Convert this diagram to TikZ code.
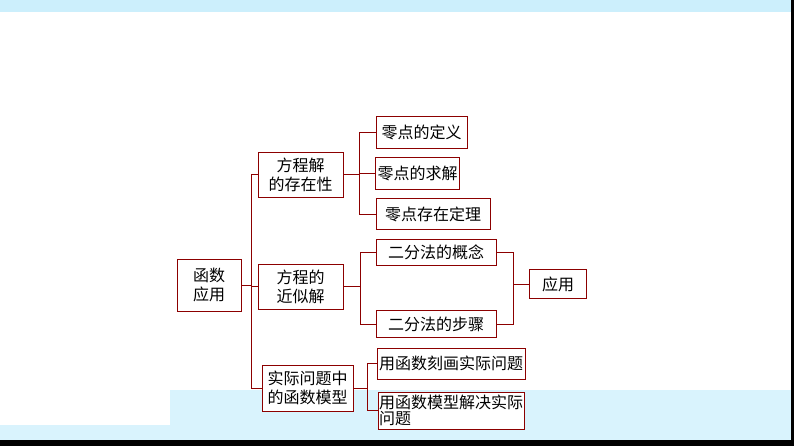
\documentclass[tikz,border=0pt]{standalone}
\usepackage{fontspec}
\newfontfamily\cjk{Noto Sans CJK SC}
\begin{document}
\begin{tikzpicture}[x=1pt,y=-1pt,
  bx/.style={draw=red!55!black,line width=0.9pt,fill=white,font=\cjk\fontsize{16}{19}\selectfont,inner sep=2pt,align=center},
  ln/.style={draw=red!55!black,line width=0.9pt}]
\useasboundingbox (0,0) rectangle (794,446);
\fill[white] (0,0) rectangle (794,446);
\fill[cyan!20] (0,0) rectangle (794,12);
\fill[cyan!15] (170,390) rectangle (794,440);
\fill[cyan!15] (0,425) rectangle (170,440);
\fill[black] (0,440) rectangle (794,446);
\fill[black] (791,0) rectangle (794,446);
\node[bx,minimum width=64,minimum height=52] (r) at (209,285) {函数\\应用};
\node[bx,minimum width=85,minimum height=45] (a) at (300.5,174.5) {方程解\\的存在性};
\node[bx,minimum width=85,minimum height=45] (b) at (300.5,286.5) {方程的\\近似解};
\node[bx,minimum width=91,minimum height=46] (c) at (307.5,388) {实际问题中\\的函数模型};
\node[bx,minimum width=91,minimum height=32] (a1) at (421.5,132) {零点的定义};
\node[bx,minimum width=83,minimum height=32] (a2) at (417.5,173) {零点的求解};
\node[bx,minimum width=114,minimum height=31] (a3) at (433,214) {零点存在定理};
\node[bx,minimum width=120,minimum height=26] (b1) at (436,252) {二分法的概念};
\node[bx,minimum width=120,minimum height=27] (b2) at (436,324) {二分法的步骤};
\node[bx,minimum width=57,minimum height=29] (u) at (558,284) {应用};
\node[bx,minimum width=142,minimum height=31] (c1) at (451,363.5) {用函数刻画实际问题};
\node[bx,minimum width=138,minimum height=37,inner sep=1pt,align=left,font=\cjk\fontsize{16}{14}\selectfont] (c2) at (451,410.5) {用函数模型解决实际\\问题};
\coordinate (j0) at (251,285);
\draw[ln] (r.east) -- (j0);
\foreach \n in {a,b,c} \draw[ln] (j0) |- (\n.west);
\coordinate (j1) at (359,174.5);
\draw[ln] (a.east) -- (j1);
\foreach \n in {a1,a2,a3} \draw[ln] (j1) |- (\n.west);
\coordinate (j2) at (360,286.5);
\draw[ln] (b.east) -- (j2);
\foreach \n in {b1,b2} \draw[ln] (j2) |- (\n.west);
\coordinate (j3) at (367,388);
\draw[ln] (c.east) -- (j3);
\foreach \n in {c1,c2} \draw[ln] (j3) |- (\n.west);
\coordinate (j4) at (513,284);
\draw[ln] (j4) -- (u.west);
\foreach \n in {b1,b2} \draw[ln] (j4) |- (\n.east);
\end{tikzpicture}
\end{document}
